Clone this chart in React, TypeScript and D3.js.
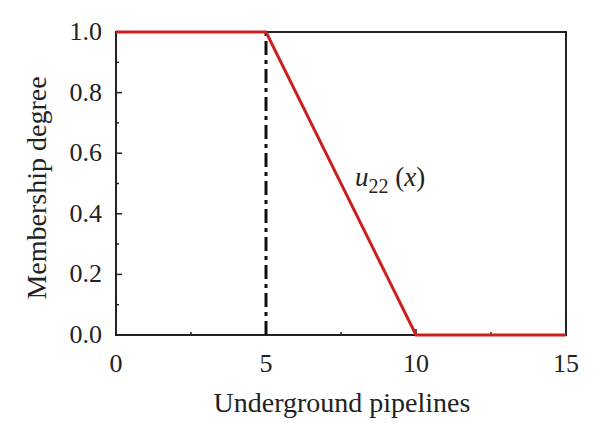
import React from "react";
import * as d3 from "d3";

const xTicks = [0, 5, 10, 15];
const xMinorTicks = [2.5, 7.5, 12.5];
const yTicks = [0, 0.2, 0.4, 0.6, 0.8, 1.0];
const yMinorTicks = [0.1, 0.3, 0.5, 0.7, 0.9];
const curveX = [0, 5, 10, 15];
const curveY = [1, 1, 0, 0];
const dividerX = [5];

const W = 600;
const H = 440;
const left = 116;
const right = 566;
const top = 32;
const bottom = 335;

export default function App() {
  const x = d3.scaleLinear().domain([0, 15]).range([left, right]);
  const y = d3.scaleLinear().domain([0, 1]).range([bottom, top]);
  const line = d3
    .line<number>()
    .x((_, i) => x(curveX[i]))
    .y((d) => y(d));
  const font = "'Liberation Serif', 'DejaVu Serif', serif";
  const axisColor = "#222";
  return (
    <svg width={W} height={H} style={{ position: "absolute", left: 0, top: 0, background: "#fff" }}>
      <rect x={0} y={0} width={W} height={H} fill="#fff" />
      {/* frame */}
      <rect x={left} y={top} width={right - left} height={bottom - top} fill="none" stroke={axisColor} strokeWidth={2} />
      {/* x ticks */}
      {xTicks.map((t) => (
        <g key={"xt" + t}>
          <line x1={x(t)} x2={x(t)} y1={bottom} y2={bottom - 6} stroke={axisColor} strokeWidth={1.5} />
          <text x={x(t)} y={bottom + 37} textAnchor="middle" fontFamily={font} fontSize={26} fill="#222">
            {t}
          </text>
        </g>
      ))}
      {xMinorTicks.map((t) => (
        <line key={"xm" + t} x1={x(t)} x2={x(t)} y1={bottom} y2={bottom - 3} stroke={axisColor} strokeWidth={1.5} />
      ))}
      {yTicks.map((t) => (
        <g key={"yt" + t}>
          <line x1={left} x2={left + 6} y1={y(t)} y2={y(t)} stroke={axisColor} strokeWidth={1.5} />
          <text x={left - 14} y={y(t) + 8} textAnchor="end" fontFamily={font} fontSize={26} fill="#222">
            {t.toFixed(1)}
          </text>
        </g>
      ))}
      {yMinorTicks.map((t) => (
        <line key={"ym" + t} x1={left} x2={left + 3} y1={y(t)} y2={y(t)} stroke={axisColor} strokeWidth={1.5} />
      ))}
      {/* divider */}
      {dividerX.map((d) => (
        <line
          key={"d" + d}
          x1={x(d)}
          x2={x(d)}
          y1={y(0)}
          y2={y(1)}
          stroke="#111"
          strokeWidth={3}
          strokeDasharray="14,5,4,5"
        />
      ))}
      {/* curve */}
      <path d={line(curveY) || ""} fill="none" stroke="#cc1f1f" strokeWidth={3} />
      {/* label */}
      <text x={355} y={186} fontFamily={font} fontSize={27} fontStyle="italic" fill="#222">
        u
        <tspan fontSize={20} fontStyle="normal" dy={7}>22</tspan>
        <tspan dy={-7} fontStyle="normal"> (</tspan>
        <tspan fontStyle="italic">x</tspan>
        <tspan fontStyle="normal">)</tspan>
      </text>
      {/* axis titles */}
      <text x={342} y={412} textAnchor="middle" fontFamily={font} fontSize={28} fill="#222">
        Underground pipelines
      </text>
      <text
        transform={`translate(46, 188) rotate(-90)`}
        textAnchor="middle"
        fontFamily={font}
        fontSize={28}
        fill="#222"
      >
        Membership degree
      </text>
    </svg>
  );
}
